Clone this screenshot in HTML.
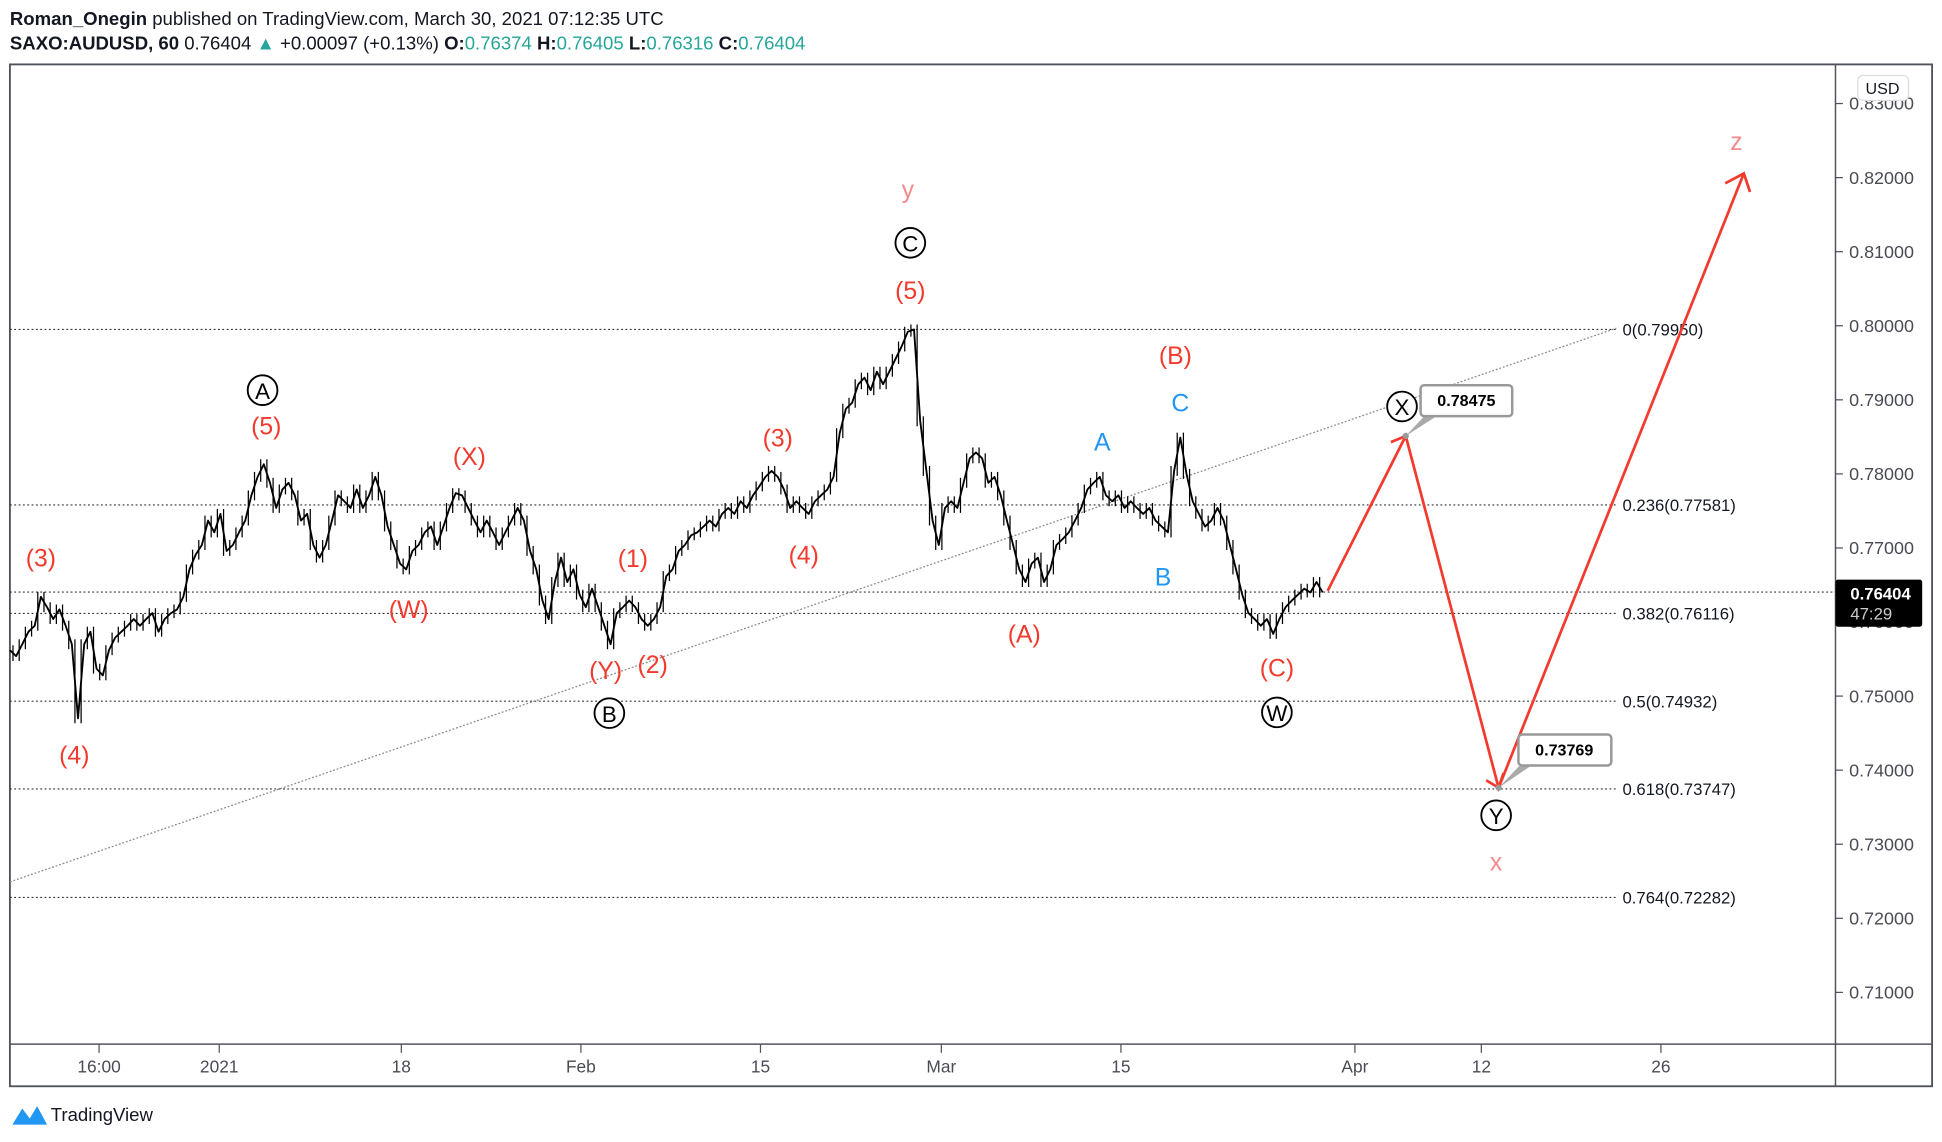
<!DOCTYPE html>
<html><head><meta charset="utf-8"><style>
html,body{margin:0;padding:0;background:#fff;}
svg{display:block;font-family:"Liberation Sans",sans-serif;}
</style></head><body>
<svg id="chart" width="1942" height="1142" viewBox="0 0 1568 922" preserveAspectRatio="none" xmlns="http://www.w3.org/2000/svg">
<rect width="1568" height="922" fill="#fff"/>
<text x="8" y="20" font-size="15" fill="#131722"><tspan font-weight="bold">Roman_Onegin</tspan> published on TradingView.com, March 30, 2021 07:12:35 UTC</text>
<text x="8" y="40" font-size="15" fill="#131722"><tspan font-weight="bold">SAXO:AUDUSD, 60</tspan>  0.76404 <tspan fill="#26a69a">▲</tspan> +0.00097 (+0.13%) <tspan font-weight="bold">O:</tspan><tspan fill="#26a69a">0.76374</tspan> <tspan font-weight="bold">H:</tspan><tspan fill="#26a69a">0.76405</tspan> <tspan font-weight="bold">L:</tspan><tspan fill="#26a69a">0.76316</tspan> <tspan font-weight="bold">C:</tspan><tspan fill="#26a69a">0.76404</tspan></text>
<rect x="8" y="52" width="1552" height="825" fill="none" stroke="#50535e" stroke-width="1.5"/>
<line x1="1482" y1="52" x2="1482" y2="877" stroke="#50535e" stroke-width="1.2"/>
<line x1="8" y1="843" x2="1560" y2="843" stroke="#50535e" stroke-width="1.2"/>
<g id="gYTicks"></g><g id="gXTicks"></g><g id="gFib"></g>
<line x1="8" y1="712" x2="1305" y2="265" stroke="#888" stroke-width="1" stroke-dasharray="1.5,1.5"/>
<polyline id="priceLine" fill="none" stroke="#000" stroke-width="1.5" stroke-linejoin="round"/>
<g id="gBars"></g>
<g stroke="#f23a2e" stroke-width="2.2" fill="none">
<polyline points="1072,477 1135,352 1210,636 1408,140"/>
<line x1="1123" y1="357" x2="1135" y2="352"/>
<polyline points="1393,148 1408,140 1413,155"/>
<polyline points="1200,630 1210,636 1214,624"/>
</g>
<g>
<polygon points="1135,352 1150,336 1160,336" fill="#aaa"/>
<rect x="1147" y="311" width="74" height="25" rx="3" fill="#fff" stroke="#999" stroke-width="2"/>
<text x="1184" y="328" font-size="13" font-weight="bold" text-anchor="middle">0.78475</text>
<circle cx="1135" cy="352" r="2.5" fill="#999"/>
</g>
<g>
<polygon points="1210,636 1228,617 1238,617" fill="#aaa"/>
<rect x="1226" y="593" width="75" height="25" rx="3" fill="#fff" stroke="#999" stroke-width="2"/>
<text x="1263" y="610" font-size="13" font-weight="bold" text-anchor="middle">0.73769</text>
<circle cx="1210" cy="636" r="2.5" fill="#999"/>
</g>
<g id="gLabels" font-size="20" text-anchor="middle"></g>
<rect x="1500" y="61" width="41" height="20" rx="4" fill="#fff" stroke="#ddd"/>
<text x="1520" y="76" font-size="13" text-anchor="middle" fill="#131722">USD</text>
<rect x="1482" y="468" width="70" height="38" rx="2" fill="#000"/>
<text x="1494" y="484" font-size="13.5" font-weight="bold" fill="#fff">0.76404</text>
<text x="1494" y="500" font-size="13.5" fill="#ccc">47:29</text>
<g>
<path d="M10,908 L18,895 L24,903 L30,893 L38,908 Z" fill="#2196f3"/>
<text x="41" y="905" font-size="15" fill="#131722">TradingView</text>
</g>
</svg>
<script>
const priceTicks=[0.71,0.72,0.73,0.74,0.75,0.76,0.77,0.78,0.79,0.80,0.81,0.82,0.83];
const timeLabels=["16:00","2021","18","Feb","15","Mar","15","Apr","12","26"];
const timeDayOffsets=[-6.69,0,10.14,20.14,30.14,40.21,50.21,63.24,70.28,80.28];
const fibLevels=["0","0.236","0.382","0.5","0.618","0.764"];
const fibPrices=[0.7995,0.77581,0.76116,0.74932,0.73747,0.72282];
const closes=[.7562,.7554,.7570,.7587,.7595,.7634,.7620,.7604,.7617,.7595,.7570,.7470,.7570,.7587,.7537,.7528,.7562,.7579,.7587,.7595,.7604,.7595,.7604,.7612,.7587,.7604,.7612,.7617,.7634,.7671,.7691,.7704,.7737,.7721,.7746,.7696,.7704,.7721,.7737,.7771,.7796,.7813,.7788,.7754,.7779,.7788,.7771,.7737,.7746,.7704,.7687,.7704,.7737,.7771,.7763,.7754,.7779,.7754,.7771,.7796,.7771,.7729,.7704,.7679,.7671,.7696,.7704,.7721,.7729,.7704,.7729,.7754,.7774,.7771,.7754,.7737,.7721,.7737,.7721,.7704,.7721,.7737,.7754,.7737,.7696,.7671,.7629,.7604,.7654,.7687,.7654,.7671,.7637,.7620,.7645,.7620,.7595,.7570,.7612,.7620,.7629,.7620,.7604,.7595,.7604,.7620,.7662,.7671,.7696,.7704,.7717,.7721,.7729,.7737,.7729,.7746,.7754,.7746,.7763,.7754,.7771,.7783,.7796,.7804,.7796,.7779,.7754,.7763,.7754,.7746,.7763,.7771,.7779,.7796,.7855,.7888,.7896,.7921,.7930,.7913,.7938,.7921,.7938,.7955,.7972,.7992,.7995,.7871,.7804,.7737,.7704,.7754,.7763,.7754,.7788,.7821,.7829,.7821,.7788,.7796,.7771,.7737,.7704,.7671,.7654,.7679,.7687,.7654,.7671,.7704,.7712,.7721,.7737,.7754,.7779,.7788,.7796,.7771,.7763,.7771,.7754,.7763,.7754,.7746,.7754,.7737,.7729,.7721,.7804,.7849,.7800,.7763,.7746,.7729,.7737,.7754,.7737,.7704,.7671,.7637,.7612,.7604,.7595,.7604,.7584,.7604,.7620,.7629,.7637,.7645,.7640,.7654,.7640];
const labelTexts=["(3)","(4)","(5)","A","(X)","(W)","(1)","(Y)","(2)","B","(3)","(4)","(5)","C","y","(B)","C","A","B","(A)","(C)","W","X","Y","x","z"];
const labelPrices=[0.7687,0.7421,0.7865,0.7913,0.7824,0.7617,0.7686,0.7535,0.7543,0.7477,0.7849,0.7691,0.8048,0.8112,0.8184,0.7960,0.7896,0.7843,0.7661,0.7584,0.7538,0.7478,0.7891,0.7339,0.7276,0.8249];
const labelX=[33,60,215,212,379,330,511,489,527,492,628,649,735,735,733,949,953,890,939,827,1031,1031,1132,1208,1208,1402];
const labelKinds=["r","r","r","c","r","r","r","r","r","c","r","r","r","c","p","r","b","b","b","r","r","c","c","c","p","p"];
const NS="http://www.w3.org/2000/svg";
function yOf(p){return 263+(0.8-p)*5980;}
function xOfBar(i){return 8+i*5;}
function xOfDay(d){return 177+d*14.5;}
function mk(tag,attrs,parent){const e=document.createElementNS(NS,tag);for(const k in attrs)e.setAttribute(k,attrs[k]);parent.appendChild(e);return e;}
const gY=document.getElementById('gYTicks');
priceTicks.forEach(p=>{const y=yOf(p);
 const t=mk('line',{x1:1482,y1:y,x2:1488,y2:y,stroke:'#50535e'},gY);
 
 
 const tx=mk('text',{x:1493,y:y+5,'font-size':14.5,fill:'#4a4c55'},gY);tx.textContent=p.toFixed(5);
 
 
});
const gX=document.getElementById('gXTicks');
timeLabels.forEach((l,i)=>{const x=xOfDay(timeDayOffsets[i]);
 mk('line',{x1:x,y1:843,x2:x,y2:850,stroke:'#50535e'},gX);
 const tx=mk('text',{x:x,y:866,'font-size':14,fill:'#4a4c55','text-anchor':'middle'},gX);tx.textContent=l;
 
 
});
const gF=document.getElementById('gFib');
fibPrices.forEach((p,i)=>{const y=yOf(p);
 const ln=mk('line',{x1:8,y1:y,x2:1305,y2:y,stroke:'#333','stroke-width':0.9,'stroke-dasharray':'1.5,2'},gF);
 
 
 const tx=mk('text',{x:1310,y:y+5,'font-size':13.5,fill:'#131722'},gF);tx.textContent=fibLevels[i]+"("+p.toFixed(5)+")";
 
 
});
const cur=mk('line',{x1:8,y1:yOf(0.76404),x2:1482,y2:yOf(0.76404),stroke:'#333','stroke-width':0.9,'stroke-dasharray':'1.5,2'},gF);


document.getElementById('priceLine').setAttribute('points',closes.map((c,i)=>xOfBar(i)+','+yOf(c).toFixed(1)).join(' '));
const gB=document.getElementById('gBars');
closes.forEach((c,i)=>{if(i===0)return;const a=yOf(closes[i-1]),b=yOf(c);
 const bar=mk('line',{x1:xOfBar(i)-2.5,y1:Math.min(a,b)-4,x2:xOfBar(i)-2.5,y2:Math.max(a,b)+4,stroke:'#000','stroke-width':1},gB);
 
 
});
const gL=document.getElementById('gLabels');
labelTexts.forEach((t,i)=>{const x=labelX[i],y=yOf(labelPrices[i]),k=labelKinds[i];
 if(k==='c'){const c=mk('circle',{cx:x,cy:y,r:12,fill:'#fff',stroke:'#000','stroke-width':1.5},gL);
  
  }
 const col=k==='r'?'#f23a2e':k==='b'?'#2196f3':k==='p'?'#f28b8b':'#000';
 const tx=mk('text',{x:x,y:y+7,fill:col,'font-size':k==='c'?18:20},gL);tx.textContent=t;
 
 
});
</script>
</body></html>
